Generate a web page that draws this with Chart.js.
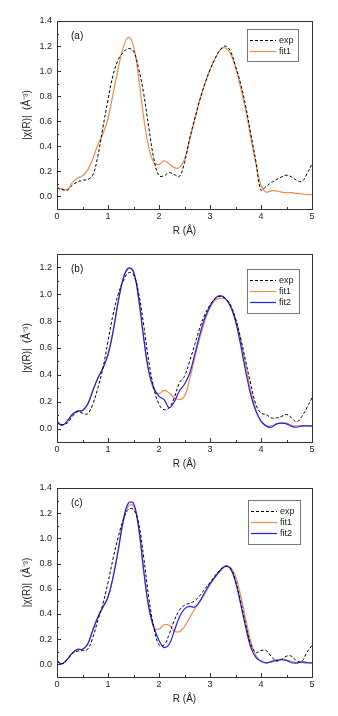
<!DOCTYPE html>
<html>
<head>
<meta charset="utf-8">
<script src="https://cdn.jsdelivr.net/npm/chart.js@4.4.0/dist/chart.umd.min.js"></script>
<style>
  html, body { margin: 0; padding: 0; background: #fff; }
  #wrap { position: relative; width: 338px; height: 716px; }
  #wrap canvas { position: absolute; left: 0; display: block; }
</style>
</head>
<body>
<div id="wrap">
  <canvas id="chartA" width="338" height="238" style="top:0px"></canvas>
  <canvas id="chartB" width="338" height="233" style="top:238px"></canvas>
  <canvas id="chartC" width="338" height="235" style="top:471px"></canvas>
</div>
<script>
// R grid (Å)
const R = [0.0,0.1,0.2,0.3,0.4,0.5,0.6,0.7,0.8,0.9,1.0,1.1,1.2,1.3,1.4,1.5,1.6,1.7,1.8,1.9,
           2.0,2.1,2.2,2.3,2.4,2.5,2.6,2.7,2.8,2.9,3.0,3.1,3.2,3.3,3.4,3.5,3.6,3.7,3.8,3.9,
           4.0,4.1,4.2,4.3,4.4,4.5,4.6,4.7,4.8,4.9,5.0];

const xTicks = [0, 1, 2, 3, 4, 5];
const yTicks14 = [0.0, 0.2, 0.4, 0.6, 0.8, 1.0, 1.2, 1.4];
const yTicks12 = [0.0, 0.2, 0.4, 0.6, 0.8, 1.0, 1.2];

// panel (a)
const expA = [0.07,0.055,0.05,0.09,0.115,0.13,0.135,0.17,0.32,0.55,
              0.77,0.97,1.09,1.15,1.18,1.16,1.02,0.82,0.55,0.30,
              0.165,0.165,0.19,0.175,0.16,0.27,0.46,0.62,0.77,0.90,
              1.01,1.10,1.17,1.20,1.16,1.04,0.90,0.72,0.50,0.28,
              0.05,0.08,0.11,0.135,0.155,0.17,0.155,0.13,0.12,0.18,
              0.26];
const fit1A = [0.07,0.06,0.055,0.11,0.145,0.165,0.21,0.30,0.41,0.50,
               0.62,0.82,1.02,1.19,1.27,1.20,0.95,0.63,0.39,0.27,
               0.255,0.285,0.26,0.23,0.23,0.30,0.45,0.61,0.77,0.90,
               1.01,1.10,1.17,1.185,1.14,1.03,0.87,0.69,0.47,0.26,
               0.09,0.035,0.045,0.045,0.035,0.03,0.03,0.025,0.02,0.015,
               0.015];

// panel (b)
const expB = [0.055,0.03,0.04,0.09,0.125,0.115,0.11,0.18,0.30,0.45,
              0.65,0.85,1.00,1.10,1.16,1.145,1.01,0.77,0.50,0.30,
              0.18,0.14,0.155,0.23,0.34,0.39,0.50,0.625,0.75,0.85,
              0.92,0.965,0.985,0.97,0.92,0.82,0.675,0.50,0.33,0.18,
              0.115,0.105,0.08,0.08,0.09,0.105,0.08,0.05,0.09,0.155,
              0.23];
const fit1B = [0.045,0.025,0.055,0.105,0.13,0.135,0.18,0.28,0.375,0.45,
               0.55,0.72,0.94,1.115,1.19,1.165,0.965,0.67,0.42,0.29,
               0.26,0.285,0.265,0.23,0.215,0.24,0.365,0.525,0.675,0.80,
               0.90,0.955,0.97,0.965,0.92,0.82,0.66,0.465,0.28,0.14,
               0.055,0.02,0.02,0.03,0.042,0.04,0.025,0.02,0.02,0.02,
               0.015];
const fit2B = [0.045,0.025,0.055,0.105,0.13,0.135,0.18,0.28,0.375,0.45,
               0.55,0.725,0.945,1.12,1.195,1.17,0.97,0.675,0.425,0.30,
               0.24,0.215,0.155,0.20,0.28,0.33,0.41,0.55,0.70,0.825,
               0.91,0.97,0.99,0.97,0.91,0.80,0.625,0.425,0.25,0.13,
               0.055,0.02,0.01,0.035,0.04,0.035,0.017,0.01,0.02,0.02,
               0.02];

// panel (c)
const expC = [0.03,0.005,0.04,0.085,0.105,0.11,0.12,0.21,0.35,0.48,
              0.65,0.84,1.01,1.15,1.23,1.23,1.12,0.85,0.53,0.29,
              0.155,0.155,0.24,0.35,0.43,0.47,0.485,0.505,0.545,0.60,
              0.65,0.705,0.75,0.78,0.765,0.665,0.505,0.32,0.16,0.095,
              0.11,0.11,0.065,0.027,0.04,0.065,0.065,0.027,0.025,0.095,
              0.15];
const fit1C = [0.025,0.005,0.04,0.09,0.115,0.12,0.16,0.265,0.37,0.45,
               0.53,0.69,0.90,1.13,1.255,1.26,1.08,0.74,0.45,0.29,
               0.28,0.315,0.31,0.265,0.26,0.30,0.37,0.44,0.50,0.56,
               0.63,0.69,0.74,0.775,0.77,0.70,0.55,0.36,0.18,0.07,
               0.02,0.01,0.025,0.035,0.04,0.035,0.025,0.015,0.015,0.01,
               0.01];
const fit2C = [0.025,0.005,0.04,0.09,0.12,0.12,0.16,0.27,0.375,0.455,
               0.535,0.695,0.905,1.145,1.28,1.28,1.09,0.745,0.455,0.295,
               0.19,0.135,0.16,0.265,0.375,0.44,0.46,0.455,0.50,0.575,
               0.64,0.695,0.745,0.78,0.76,0.655,0.48,0.295,0.135,0.055,
               0.027,0.013,0.02,0.032,0.037,0.032,0.013,0.01,0.02,0.015,
               0.012];

const ORANGE = 'rgb(238,140,80)';
const BLUE = 'rgb(30,30,245)';

Chart.defaults.font.family = '"Liberation Sans", Arial, sans-serif';
Chart.defaults.color = '#222';

// frame, inward ticks, panel tag and the boxed legend
const decor = {
    id: 'decor',
    afterDatasetsDraw(chart, args, opts) {
        const { ctx, chartArea: a, scales: { x, y } } = chart;
        ctx.save();
        ctx.strokeStyle = '#333';
        ctx.lineWidth = 1;
        ctx.setLineDash([]);

        ctx.beginPath();
        const xs = opts.xTicks;
        for (let i = 0; i < xs.length; i++) {
            const px = Math.round(x.getPixelForValue(xs[i])) + 0.5;
            ctx.moveTo(px, a.bottom); ctx.lineTo(px, a.bottom - 4);
            if (i < xs.length - 1) {
                const pm = Math.round(x.getPixelForValue((xs[i] + xs[i + 1]) / 2)) + 0.5;
                ctx.moveTo(pm, a.bottom); ctx.lineTo(pm, a.bottom - 2);
            }
        }
        const ys = opts.yTicks;
        for (let i = 0; i < ys.length; i++) {
            const py = Math.round(y.getPixelForValue(ys[i])) + 0.5;
            ctx.moveTo(a.left, py); ctx.lineTo(a.left + 4, py);
            const half = [ys[i] - 0.1, ys[i] + 0.1];
            half.forEach(v => {
                if (v > y.min + 1e-6 && v < y.max - 1e-6 && (i === ys.length - 1 || v < ys[i])) {
                    const pm = Math.round(y.getPixelForValue(v)) + 0.5;
                    ctx.moveTo(a.left, pm); ctx.lineTo(a.left + 2, pm);
                }
            });
        }
        ctx.stroke();

        ctx.strokeRect(Math.round(a.left) + 0.5, Math.round(a.top) + 0.5,
            Math.round(a.right - a.left), Math.round(a.bottom - a.top));

        // panel tag
        ctx.fillStyle = '#111';
        ctx.font = '10px "Liberation Sans", Arial, sans-serif';
        ctx.textAlign = 'left';
        ctx.textBaseline = 'middle';
        ctx.fillText(opts.tag, a.left + 14, a.top + 15.5);

        // legend box
        const b = opts.box;
        ctx.fillStyle = '#fff';
        ctx.fillRect(b.left, b.top, b.width, b.height);
        ctx.strokeStyle = '#777';
        ctx.strokeRect(b.left + 0.5, b.top + 0.5, b.width, b.height);
        ctx.font = '9px "Liberation Sans", Arial, sans-serif';
        chart.data.datasets.forEach((ds, i) => {
            const ry = b.top + b.rows[i] + 0.5;
            ctx.strokeStyle = ds.borderColor;
            ctx.lineWidth = ds.borderWidth;
            ctx.setLineDash(ds.borderDash || []);
            ctx.beginPath();
            ctx.moveTo(b.left + 3, ry); ctx.lineTo(b.left + 29, ry);
            ctx.stroke();
            ctx.setLineDash([]);
            ctx.fillStyle = '#222';
            ctx.fillText(ds.label, b.left + 32, ry);
        });
        ctx.restore();
    }
};

function makeChart(id, series, yMax, yTicks, tag, box, padTop, bottom) {
    const canvas = document.getElementById(id);
    const H = canvas.height;
    const datasets = series.map(s => ({
        label: s.label,
        data: R.map((r, i) => ({ x: r, y: s.values[i] })),
        borderColor: s.color,
        borderWidth: s.width,
        borderDash: s.dash || [],
        pointRadius: 0,
        tension: 0.4,
        fill: false,
        order: s.order
    }));

    return new Chart(canvas.getContext('2d'), {
        type: 'line',
        data: { datasets },
        options: {
            responsive: false,
            animation: false,
            layout: { padding: { top: padTop, right: 26, left: 0, bottom: 0 } },
            plugins: {
                legend: { display: false },
                tooltip: { enabled: false },
                decor: { xTicks, yTicks, tag, box }
            },
            scales: {
                x: {
                    type: 'linear',
                    min: 0,
                    max: 5,
                    grid: { display: false, drawTicks: false },
                    border: { display: false },
                    afterBuildTicks: s => { s.ticks = xTicks.map(v => ({ value: v })); },
                    afterFit: s => { s.height = H - bottom; },
                    ticks: { padding: 2, font: { size: 9 }, callback: v => String(v) },
                    title: {
                        display: true,
                        text: 'R (Å)',
                        font: { size: 10 },
                        padding: { top: 0, bottom: 1 }
                    }
                },
                y: {
                    min: -0.1,
                    max: yMax,
                    grid: { display: false, drawTicks: false },
                    border: { display: false },
                    afterBuildTicks: s => { s.ticks = yTicks.map(v => ({ value: v })); },
                    afterFit: s => { s.width = 57; },
                    ticks: { padding: 5, font: { size: 9 }, callback: v => Number(v).toFixed(1) },
                    title: {
                        display: true,
                        text: '|χ(R)|  (Å⁻³)',
                        font: { size: 10 },
                        padding: { top: 21, bottom: 0 }
                    }
                }
            }
        },
        plugins: [decor]
    });
}

const expStyle = { label: 'exp', color: '#000', width: 1, dash: [3, 2], order: 0 };

makeChart('chartA', [
    { ...expStyle, values: expA },
    { label: 'fit1', values: fit1A, color: ORANGE, width: 1.2, order: 1 }
], 1.4, yTicks14, '(a)', { left: 247, top: 29, width: 51, height: 32, rows: [11, 22] }, 21, 209);

makeChart('chartB', [
    { ...expStyle, values: expB },
    { label: 'fit1', values: fit1B, color: ORANGE, width: 1.2, order: 2 },
    { label: 'fit2', values: fit2B, color: BLUE, width: 1.2, order: 1 }
], 1.3, yTicks12, '(b)', { left: 247, top: 31, width: 52, height: 44, rows: [11, 22, 33] }, 16, 204);

makeChart('chartC', [
    { ...expStyle, values: expC },
    { label: 'fit1', values: fit1C, color: ORANGE, width: 1.2, order: 2 },
    { label: 'fit2', values: fit2C, color: BLUE, width: 1.2, order: 1 }
], 1.4, yTicks14, '(c)', { left: 248, top: 29, width: 52, height: 44, rows: [11, 22, 33] }, 17, 206);
</script>
</body>
</html>
